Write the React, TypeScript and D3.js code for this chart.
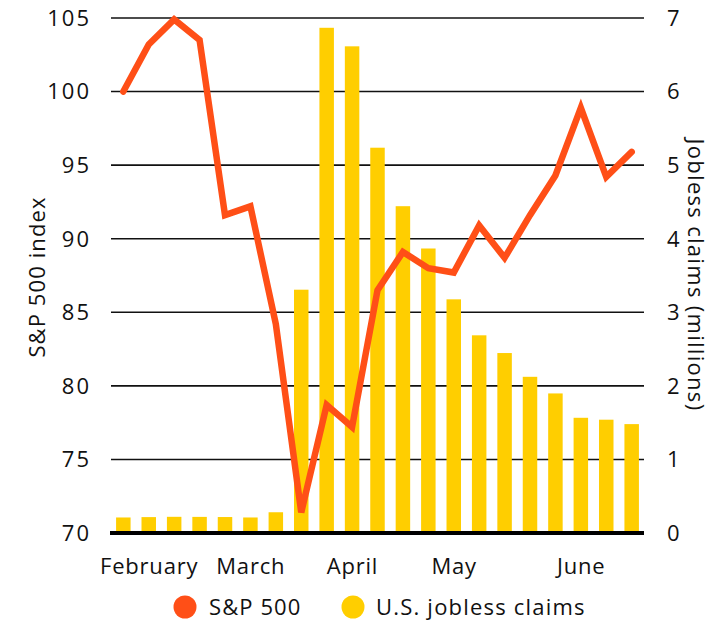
import React from "react";
import * as d3 from "d3";

const weeks = d3.range(21).map((i) => `W${i + 1}`);
const sp500 = [100, 103.2, 104.9, 103.5, 91.6, 92.2, 84.2, 71.4, 78.7, 77.2, 86.5, 89.1, 88.0, 87.7, 90.9, 88.7, 91.6, 94.3, 98.9, 94.2, 95.9];
const claims = [0.211, 0.216, 0.220, 0.219, 0.217, 0.211, 0.282, 3.307, 6.867, 6.615, 5.237, 4.442, 3.867, 3.176, 2.687, 2.446, 2.123, 1.897, 1.566, 1.540, 1.480];
const leftTicks = [70, 75, 80, 85, 90, 95, 100, 105];
const rightTicks = [0, 1, 2, 3, 4, 5, 6, 7];
const monthLabels = ["February", "March", "April", "May", "June"];
const monthIdx = [1, 5, 9, 13, 18];

const W = 719, H = 621;
const left = 111, right = 644, top = 18, bottom = 533;
const FONT = "'Open Sans', sans-serif";
const ORANGE = "#FF4F17";
const YELLOW = "#FFCE00";
const FS = 22;

export default function App() {
  const x = d3.scaleBand().domain(weeks).range([left, right]).paddingInner(0.43).paddingOuter(0.2);
  const yL = d3.scaleLinear().domain([70, 105]).range([bottom, top]);
  const yR = d3.scaleLinear().domain([0, 7]).range([bottom, top]);
  const cx = (i: number) => (x(weeks[i]) as number) + x.bandwidth() / 2;
  const line = d3.line<number>().x((_, i) => cx(i)).y((d) => yL(d));
  return (
    <svg width={W} height={H} style={{ position: "absolute", left: 0, top: 0 }}>
      <rect width={W} height={H} fill="#fff" />
      {leftTicks.filter((t) => t !== 70).map((t) => (
        <line key={t} x1={left} x2={right} y1={yL(t)} y2={yL(t)} stroke="#111" strokeWidth={1.6} />
      ))}
      {claims.map((c, i) => (
        <rect key={i} x={x(weeks[i])} width={x.bandwidth()} y={yR(c)} height={yR(0) - yR(c)} fill={YELLOW} />
      ))}
      <line x1={left - 1} x2={right} y1={bottom} y2={bottom} stroke="#000" strokeWidth={4} />
      <path d={line(sp500) || ""} fill="none" stroke={ORANGE} strokeWidth={6.5} strokeLinejoin="miter" strokeLinecap="round" />
      {leftTicks.map((t) => (
        <text key={t} x={91} y={yL(t)} dy="0.36em" textAnchor="end" fontFamily={FONT} fontSize={FS} fill="#111" letterSpacing={2}>{t}</text>
      ))}
      {rightTicks.map((t) => (
        <text key={t} x={667} y={yR(t)} dy="0.36em" textAnchor="start" fontFamily={FONT} fontSize={FS} fill="#111">{t}</text>
      ))}
      {monthLabels.map((m, k) => (
        <text key={m} x={cx(monthIdx[k]) + 0.4} y={574} textAnchor="middle" fontFamily={FONT} fontSize={FS} fill="#111" letterSpacing={0.8}>{m}</text>
      ))}
      <text transform={`translate(45,277) rotate(-90)`} textAnchor="middle" fontFamily={FONT} fontSize={FS} fill="#111" letterSpacing={1.1}>S&amp;P 500 index</text>
      <text transform={`translate(688,275) rotate(90)`} textAnchor="middle" fontFamily={FONT} fontSize={FS} fill="#111" letterSpacing={1.3}>Jobless claims (millions)</text>
      <circle cx={185} cy={607} r={11.5} fill={ORANGE} />
      <text x={209} y={615} fontFamily={FONT} fontSize={FS} fill="#111" letterSpacing={1.1}>S&amp;P 500</text>
      <circle cx={353} cy={607} r={11.5} fill={YELLOW} />
      <text x={376} y={615} fontFamily={FONT} fontSize={FS} fill="#111" letterSpacing={1.2}>U.S. jobless claims</text>
    </svg>
  );
}
